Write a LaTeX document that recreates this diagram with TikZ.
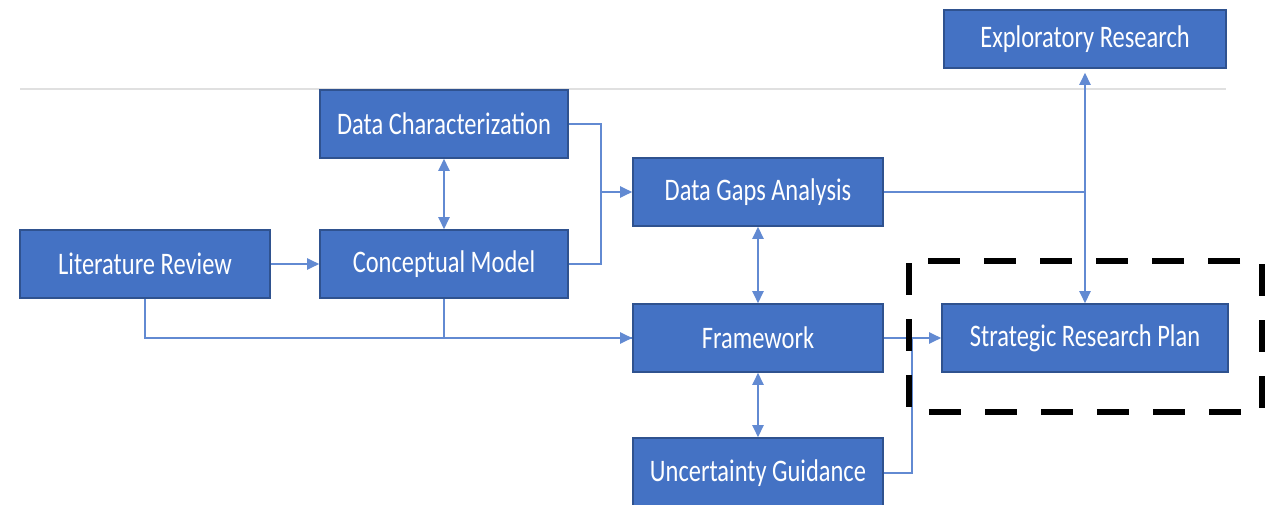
\documentclass[tikz,border=0pt]{standalone}
\usepackage{fontspec}
\setmainfont{Carlito}[FakeStretch=0.78]
\usetikzlibrary{arrows.meta}
\definecolor{boxblue}{RGB}{68,114,196}
\definecolor{boxedge}{RGB}{47,82,143}
\definecolor{linkblue}{RGB}{98,138,210}
\begin{document}
\begin{tikzpicture}[x=0.025cm,y=-0.025cm,
  block/.style={draw=boxedge,line width=0.04cm,fill=boxblue,text=white,minimum width=6.25cm,minimum height=1.7cm,inner sep=0pt,font=\fontsize{22.3}{24}\selectfont},
  link/.style={draw=linkblue,line width=0.04cm,-{Triangle[length=0.3cm,width=0.28cm]}},
  twoway/.style={link,{Triangle[length=0.3cm,width=0.28cm]}-{Triangle[length=0.3cm,width=0.28cm]}},
  plain/.style={draw=linkblue,line width=0.04cm}]
\useasboundingbox (0,0) rectangle (1278,505);
\draw[black!12,line width=0.03cm] (20,89) -- (1226,89);

\node[block] (lit) at (145,264) {Literature Review};
\node[block,minimum width=6.2cm] (concept) at (444,264) {Conceptual Model};
\node[block,minimum width=6.2cm] (datachar) at (444,124) {Data Characterization};
\node[block] (gaps) at (758,192) {Data Gaps Analysis};
\node[block] (frame) at (758,338) {Framework};
\node[block,minimum height=1.75cm] (uncert) at (758,473) {Uncertainty Guidance};
\node[block,minimum width=7.15cm] (strat) at (1085,338) {Strategic Research Plan};
\node[block,minimum width=7.05cm,minimum height=1.45cm] (explor) at (1085,39) {Exploratory Research};

\coordinate (merge) at (601,192);
\coordinate (join) at (912,338);
\draw[link] (lit) -- (concept);
\draw[twoway] (datachar) -- (concept);
\draw[plain] (datachar.east) -| (merge);
\draw[plain] (concept.east) -| (merge);
\draw[link] (merge) -- (gaps.west);
\draw[plain] (concept.south) |- (frame.west);
\draw[link] (lit.south) |- (frame.west);
\draw[twoway] (gaps) -- (frame);
\draw[twoway] (frame) -- (uncert);
\draw[link] (frame) -- (strat);
\draw[plain] (uncert.east) -| (join);
\draw[link,shorten >=0.1cm] (gaps.east) -| (explor.south);
\draw[link] (gaps.east) -| (strat.north);

% dashed frame round the plan
\draw[line width=0.15cm,dash pattern=on 0.8cm off 0.6cm,rounded corners=0.05cm] (909,261) rectangle (1262,412);
\end{tikzpicture}
\end{document}
